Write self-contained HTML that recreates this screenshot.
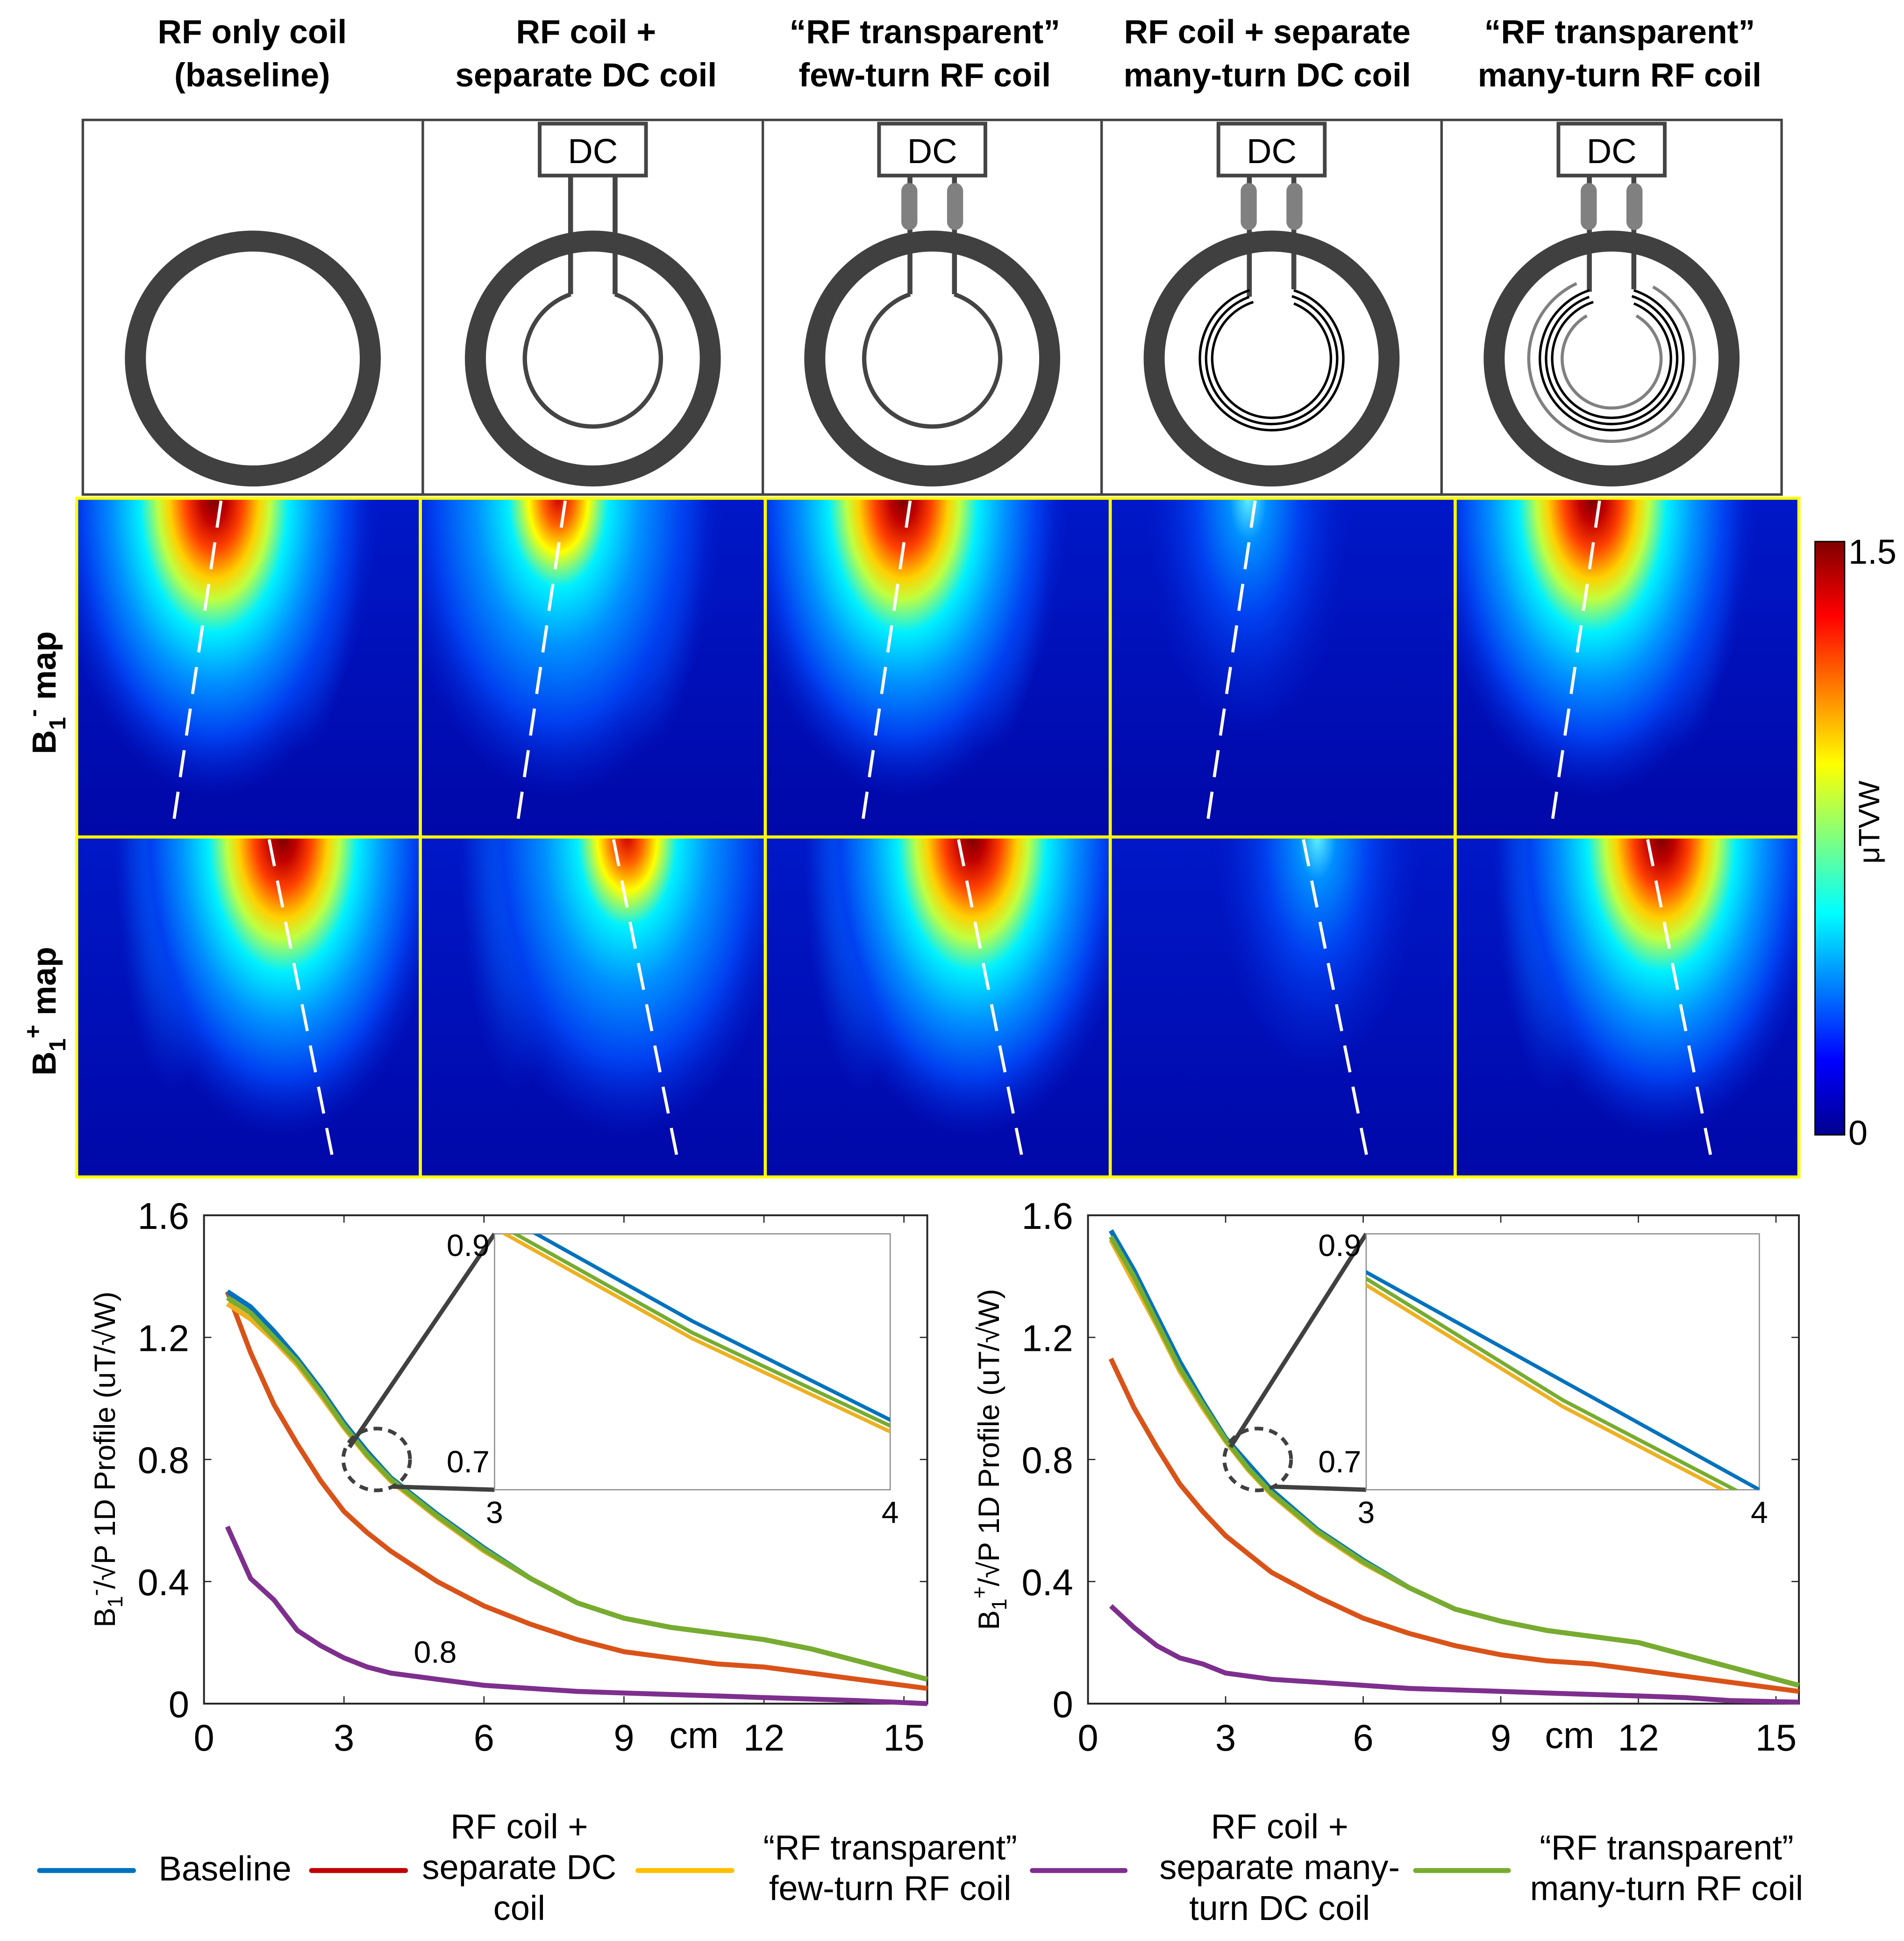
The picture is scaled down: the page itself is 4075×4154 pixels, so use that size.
<!DOCTYPE html>
<html><head><meta charset="utf-8">
<style>
html,body{margin:0;padding:0;background:#fff;overflow:hidden;}
svg{display:block;}
text{font-family:"Liberation Sans","DejaVu Sans",sans-serif;}
</style></head>
<body>
<svg id="fig" width="4075" height="4154" viewBox="0 0 1540 1570" preserveAspectRatio="none" xmlns="http://www.w3.org/2000/svg">
<defs>
<radialGradient id="hot" cx="0.5" cy="0.5" r="0.5">
<stop offset="0" stop-color="#7a0000"/>
<stop offset="0.08" stop-color="#c00000"/>
<stop offset="0.17" stop-color="#ff4000"/>
<stop offset="0.27" stop-color="#ffd000"/>
<stop offset="0.34" stop-color="#c0ff40"/>
<stop offset="0.45" stop-color="#00f0ff"/>
<stop offset="0.62" stop-color="#0090ff"/>
<stop offset="0.8" stop-color="#0040f0"/>
<stop offset="1" stop-color="#0020d0" stop-opacity="0"/>
</radialGradient>
<radialGradient id="mid" cx="0.5" cy="0.5" r="0.5">
<stop offset="0" stop-color="#d00000"/>
<stop offset="0.09" stop-color="#ff6000"/>
<stop offset="0.18" stop-color="#ffff00"/>
<stop offset="0.3" stop-color="#00f0ff"/>
<stop offset="0.5" stop-color="#0090ff"/>
<stop offset="0.75" stop-color="#0040f0"/>
<stop offset="1" stop-color="#0020d0" stop-opacity="0"/>
</radialGradient>
<radialGradient id="weak" cx="0.5" cy="0.5" r="0.5">
<stop offset="0" stop-color="#60f0ff"/>
<stop offset="0.18" stop-color="#0090ff"/>
<stop offset="0.5" stop-color="#0040f0"/>
<stop offset="1" stop-color="#0020d0" stop-opacity="0"/>
</radialGradient>
<radialGradient id="lobe" cx="0.5" cy="0.5" r="0.5">
<stop offset="0" stop-color="#80ffa0"/>
<stop offset="0.15" stop-color="#00e8ff"/>
<stop offset="0.45" stop-color="#0080ff"/>
<stop offset="1" stop-color="#0030e0" stop-opacity="0"/>
</radialGradient>
<linearGradient id="bg" x1="0" y1="0" x2="0" y2="1">
<stop offset="0" stop-color="#0018c8"/>
<stop offset="1" stop-color="#0008a8"/>
</linearGradient>
<linearGradient id="jet" x1="0" y1="1" x2="0" y2="0">
<stop offset="0" stop-color="#00008f"/>
<stop offset="0.125" stop-color="#0000ff"/>
<stop offset="0.375" stop-color="#00ffff"/>
<stop offset="0.625" stop-color="#ffff00"/>
<stop offset="0.875" stop-color="#ff0000"/>
<stop offset="1" stop-color="#800000"/>
</linearGradient>
<clipPath id="clipL"><rect x="400" y="998" width="320" height="207"/></clipPath>
<clipPath id="clipR"><rect x="1105" y="998" width="318" height="207"/></clipPath>
</defs>
<g id="headers" font-weight="bold" font-size="27" text-anchor="middle" fill="#000"></g>
<g id="coils"></g>
<g id="maps"></g>
<g id="cbar"></g>
<g id="charts"></g>
<g id="legend"></g>
</svg>
<script>
// ---- chart data ----
const xs = [0.5,1,1.5,2,2.5,3,3.5,4,5,6,7,8,9,10,11,12,13,14,15.5];
const minusBaseline = [1.35,1.30,1.22,1.13,1.03,0.92,0.825,0.74,0.62,0.51,0.41,0.33,0.28,0.25,0.23,0.21,0.18,0.14,0.08];
const minusSepDC   = [1.35,1.15,0.98,0.85,0.73,0.63,0.56,0.50,0.40,0.32,0.26,0.21,0.17,0.15,0.13,0.12,0.10,0.08,0.05];
const minusFewTurn = [1.31,1.26,1.19,1.11,1.01,0.905,0.81,0.73,0.61,0.50,0.41,0.33,0.28,0.25,0.23,0.21,0.18,0.14,0.08];
const minusManyDC  = [0.58,0.41,0.34,0.24,0.19,0.15,0.12,0.10,0.08,0.06,0.05,0.04,0.035,0.03,0.025,0.02,0.015,0.01,0.0];
const minusManyRF  = [1.33,1.28,1.20,1.12,1.02,0.91,0.815,0.735,0.615,0.505,0.41,0.33,0.28,0.25,0.23,0.21,0.18,0.14,0.08];
const plusBaseline = [1.55,1.42,1.27,1.12,0.99,0.87,0.785,0.70,0.57,0.47,0.38,0.31,0.27,0.24,0.22,0.20,0.16,0.12,0.06];
const plusSepDC    = [1.13,0.97,0.84,0.72,0.63,0.55,0.49,0.43,0.35,0.28,0.23,0.19,0.16,0.14,0.13,0.11,0.09,0.07,0.04];
const plusFewTurn  = [1.52,1.38,1.24,1.09,0.97,0.86,0.765,0.685,0.56,0.46,0.38,0.31,0.27,0.24,0.22,0.20,0.16,0.12,0.06];
const plusManyDC   = [0.32,0.25,0.19,0.15,0.13,0.10,0.09,0.08,0.07,0.06,0.05,0.045,0.04,0.035,0.03,0.025,0.02,0.01,0.005];
const plusManyRF   = [1.53,1.40,1.25,1.10,0.98,0.865,0.77,0.69,0.565,0.465,0.38,0.31,0.27,0.24,0.22,0.20,0.16,0.12,0.06];
const xTicks = [0,3,6,9,12,15];
const yTicks = [0,0.4,0.8,1.2,1.6];
const seriesColors = ['#0072bd','#d95319','#edb120','#7e2f8e','#77ac30'];
const legendLabels = [['Baseline'],['RF coil +','separate DC','coil'],['\u201cRF transparent\u201d','few-turn RF coil'],['RF coil +','separate many-','turn DC coil'],['\u201cRF transparent\u201d','many-turn RF coil']];
const headerLines = [['RF only coil','(baseline)'],['RF coil +','separate DC coil'],['\u201cRF transparent\u201d','few-turn RF coil'],['RF coil + separate','many-turn DC coil'],['\u201cRF transparent\u201d','many-turn RF coil']];

const NS='http://www.w3.org/2000/svg';
function mk(parent,tag,attrs,txt){const e=document.createElementNS(NS,tag);for(const k in attrs)e.setAttribute(k,attrs[k]);if(txt!==undefined)e.textContent=txt;parent.appendChild(e);return e;}
function arcD(cx,cy,r,aL,aR){const p=a=>[cx+r*Math.sin(a*Math.PI/180),cy-r*Math.cos(a*Math.PI/180)];
  const s=p(-aL),e=p(aR);return `M ${s[0].toFixed(1)} ${s[1].toFixed(1)} A ${r} ${r} 0 1 0 ${e[0].toFixed(1)} ${e[1].toFixed(1)}`;}

// headers
const H=document.getElementById('headers');
const colC=[204,474,748,1025,1310];
headerLines.forEach((ls,i)=>{ls.forEach((l,j)=>{const t=mk(H,'text',{x:colC[i],y:35+j*35},l);

});});

// coils
const C=document.getElementById('coils');
const bx=[67,342,617,891,1166,1441];
for(let i=0;i<5;i++){
  const g=mk(C,'g',{});
  
  
  mk(g,'rect',{x:bx[i],y:97,width:bx[i+1]-bx[i],height:303,fill:'#fff',stroke:'#444','stroke-width':2});
  const cx=(bx[i]+bx[i+1])/2, cy=290;
  if(i>0){
    mk(g,'rect',{x:cx-43,y:100,width:86,height:42,fill:'#fff',stroke:'#444','stroke-width':3});
    const dc=mk(g,'text',{x:cx,y:132,'font-size':28,'text-anchor':'middle'},'DC');
    
    
    const yl=i<=2?238:(i==3?240:236), yr=i<=2?238:234;
    mk(g,'line',{x1:cx-18,y1:142,x2:cx-18,y2:yl,stroke:'#444','stroke-width':4});
    mk(g,'line',{x1:cx+18,y1:142,x2:cx+18,y2:yr,stroke:'#444','stroke-width':4});
    if(i>1){mk(g,'rect',{x:cx-25,y:148,width:13,height:38,rx:6.5,fill:'#808080'});mk(g,'rect',{x:cx+12,y:148,width:13,height:38,rx:6.5,fill:'#808080'});}
  }
  mk(g,'circle',{cx:cx,cy:cy,r:95,fill:'none',stroke:'#404040','stroke-width':17});
  if(i==1||i==2){
    mk(g,'path',{d:arcD(cx,cy,55,19,19),fill:'none',stroke:'#444','stroke-width':3.5});
  }
  if(i==3||i==4){
    mk(g,'path',{d:arcD(cx,cy,58,18,18),fill:'none',stroke:'#000','stroke-width':2});
    mk(g,'path',{d:arcD(cx,cy,53,20,18),fill:'none',stroke:'#000','stroke-width':2});
    mk(g,'path',{d:arcD(cx,cy,48,18,22),fill:'none',stroke:'#000','stroke-width':2});
  }
  if(i==4){
    mk(g,'path',{d:arcD(cx,cy,67,25,30),fill:'none',stroke:'#808080','stroke-width':2.5});
    mk(g,'path',{d:arcD(cx,cy,40,30,30),fill:'none',stroke:'#808080','stroke-width':2.5});
  }
}

// maps
const M=document.getElementById('maps');
const mx=[62,340,619,898,1177,1455];
const rowY=[403,677,952];
const strength=['hot','mid','hot','weak','hot'];
for(let r=0;r<2;r++)for(let i=0;i<5;i++){
  const x0=mx[i],w=mx[i+1]-mx[i],y0=rowY[r],h=rowY[r+1]-rowY[r];
  const g=mk(M,'g',{});
  
  
  const cid='c'+r+i;
  const cp=mk(g,'clipPath',{id:cid});mk(cp,'rect',{x:x0,y:y0,width:w,height:h});
  const gg=mk(g,'g',{'clip-path':`url(#${cid})`});
  mk(gg,'rect',{x:x0,y:y0,width:w,height:h,fill:'url(#bg)'});
  const hotX = r==0?0.4:0.6, lobeX = r==0?0.66:0.28;
  if(strength[i]!='weak') mk(gg,'ellipse',{cx:x0+lobeX*w,cy:y0,rx:w*0.17,ry:h*0.75,fill:'url(#lobe)',opacity:strength[i]=='mid'?0.7:0.9});
  const wk=strength[i]=='weak';
  mk(gg,'ellipse',{cx:x0+hotX*w,cy:y0,rx:w*(wk?0.3:0.48),ry:h*(wk?0.7:0.88),fill:`url(#${strength[i]})`});
  const d0=r==0?[0.42,0.28]:[0.56,0.75];
  mk(gg,'line',{x1:x0+d0[0]*w,y1:y0+2,x2:x0+d0[1]*w,y2:y0+h-8,stroke:'#fff','stroke-width':2.5,'stroke-dasharray':'22 12'});
  mk(g,'rect',{x:x0,y:y0,width:w,height:h,fill:'none',stroke:'#ffff00','stroke-width':2.5});
}
const rl1=mk(M,'text',{x:0,y:0,'font-size':27,'font-weight':'bold',transform:'translate(45,610) rotate(-90)'});
rl1.innerHTML='B<tspan font-size="19" dy="8">1</tspan><tspan font-size="19" dy="-20">-</tspan><tspan dy="12"> map</tspan>';


const rl2=mk(M,'text',{x:0,y:0,'font-size':27,'font-weight':'bold',transform:'translate(45,870) rotate(-90)'});
rl2.innerHTML='B<tspan font-size="19" dy="8">1</tspan><tspan font-size="19" dy="-20">+</tspan><tspan dy="12"> map</tspan>';



// colorbar
const CB=document.getElementById('cbar');
mk(CB,'rect',{x:1468,y:438,width:24,height:480,fill:'url(#jet)',stroke:'#000','stroke-width':1});
const cb1=mk(CB,'text',{x:1495,y:456,'font-size':28},'1.5');


const cb0=mk(CB,'text',{x:1495,y:926,'font-size':28},'0');


const cbt=mk(CB,'text',{x:0,y:0,'font-size':24,transform:'translate(1520,665) rotate(-90)','text-anchor':'middle'},'\u03bcTVW');



// charts
const CH=document.getElementById('charts');
function chart(left,right,clip,inset,ylabelSign,series){
  const top=983,bot=1378,xmax=15.5,ymax=1.6;
  const X=v=>left+(v/xmax)*(right-left), Y=v=>bot-(v/ymax)*(bot-top);
  const g=mk(CH,'g',{});
  
  
  mk(g,'rect',{x:left,y:top,width:right-left,height:bot-top,fill:'none',stroke:'#262626','stroke-width':1.5});
  xTicks.forEach(t=>{mk(g,'line',{x1:X(t),y1:bot,x2:X(t),y2:bot-6,stroke:'#262626'});mk(g,'line',{x1:X(t),y1:top,x2:X(t),y2:top+6,stroke:'#262626'});
    const tl=mk(g,'text',{x:X(t),y:bot+38,'font-size':30,'text-anchor':'middle'},String(t));
    
    });
  const cm=mk(g,'text',{x:X(10.5),y:bot+36,'font-size':30,'text-anchor':'middle'},'cm');
  
  
  yTicks.forEach(t=>{mk(g,'line',{x1:left,y1:Y(t),x2:left+6,y2:Y(t),stroke:'#262626'});mk(g,'line',{x1:right,y1:Y(t),x2:right-6,y2:Y(t),stroke:'#262626'});
    const tl=mk(g,'text',{x:left-12,y:Y(t)+11,'font-size':30,'text-anchor':'end'},t===0?'0':t.toFixed(1));
    
    });
  const yl=mk(g,'text',{x:0,y:0,'font-size':24,'text-anchor':'middle',transform:`translate(${left-72},${(top+bot)/2}) rotate(-90)`});
  yl.innerHTML=`B<tspan font-size="17" dy="6">1</tspan><tspan font-size="17" dy="-16">${ylabelSign}</tspan><tspan dy="10">/\u221aP 1D Profile (uT/\u221aW)</tspan>`;
  
  
  const order=[1,3,0,2,4];
  order.forEach(k=>{const pts=xs.map((x,j)=>X(x).toFixed(1)+','+Y(series[k][j]).toFixed(1)).join(' ');
    const pl=mk(g,'polyline',{points:pts,fill:'none',stroke:seriesColors[k],'stroke-width':4,'stroke-linejoin':'round'});
    
    });
  const zc=[X(3.7),Y(0.8)];
  mk(g,'ellipse',{cx:zc[0],cy:zc[1],rx:27,ry:25,fill:'none',stroke:'#404040','stroke-width':3,'stroke-dasharray':'7 5'});
  const il=inset.x0,ir=inset.x1,it=998,ib=1205;
  mk(g,'line',{x1:zc[0]-22,y1:zc[1]-10,x2:il,y2:it,stroke:'#404040','stroke-width':3.5});
  mk(g,'line',{x1:zc[0]+13,y1:zc[1]+22,x2:il,y2:ib,stroke:'#404040','stroke-width':3.5});
  mk(g,'rect',{x:il,y:it,width:ir-il,height:ib-it,fill:'#fff',stroke:'#909090','stroke-width':1});
  const IX=v=>il+(v-3)*(ir-il), IY=v=>ib-(v-inset.ymin)/(0.9-inset.ymin)*(ib-it);
  const ig=mk(g,'g',{'clip-path':`url(#${clip})`});
  [2,4,0].forEach(k=>{const pts=xs.map((x,j)=>IX(x).toFixed(1)+','+IY(series[k][j]).toFixed(1)).join(' ');
    const pl=mk(ig,'polyline',{points:pts,fill:'none',stroke:seriesColors[k],'stroke-width':3});
    
    });
  [['0.9',il-4,it+18,'end'],['0.7',il-4,ib-14,'end'],['3',il,ib+27,'middle'],['4',ir,ib+27,'middle']].forEach(a=>{
    const t=mk(g,'text',{x:a[1],y:a[2],'font-size':25,'text-anchor':a[3]},a[0]);
    
    });
  return {X,Y};
}
chart(165,750,'clipL',{x0:400,x1:720,ymin:0.68},'-',[minusBaseline,minusSepDC,minusFewTurn,minusManyDC,minusManyRF]);
const note=mk(CH,'text',{x:352,y:1345,'font-size':25,'text-anchor':'middle'},'0.8');


chart(880,1455,'clipR',{x0:1105,x1:1423,ymin:0.7},'+',[plusBaseline,plusSepDC,plusFewTurn,plusManyDC,plusManyRF]);

// legend
const L=document.getElementById('legend');
const lx=[[32,108,182],[252,328,420],[516,592,720],[835,910,1035],[1145,1220,1348]];
legendLabels.forEach((ls,i)=>{
  const g=mk(L,'g',{});
  
  
  mk(g,'line',{x1:lx[i][0],y1:1513,x2:lx[i][1],y2:1513,stroke:i==1?'#c00000':(i==2?'#ffc000':seriesColors[i]),'stroke-width':4,'stroke-linecap':'round'});
  const n=ls.length, y0=1521-(n-1)*17;
  ls.forEach((l,j)=>mk(g,'text',{x:lx[i][2],y:y0+j*33,'font-size':28,'text-anchor':'middle'},l));
});
</script>
</body></html>
